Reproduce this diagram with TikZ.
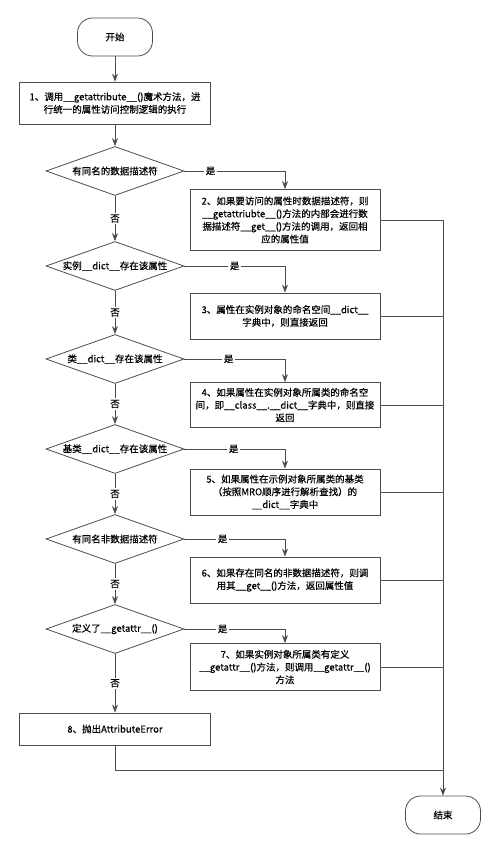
\documentclass[tikz,border=0pt]{standalone}
\usepackage{fontspec}
\setmainfont{Noto Sans CJK SC}[FakeBold=0.4]
\usetikzlibrary{shapes.geometric,arrows.meta}

\begin{document}
\begin{tikzpicture}[x=1pt,y=-1pt,
    font=\fontsize{9.5}{12.7}\selectfont,
    line/.style={draw=black!70, line width=0.8pt},
    arr/.style={line, -{Stealth[length=8pt,width=6pt]}},
    term/.style={line, rectangle, rounded corners=15pt, minimum width=75pt, minimum height=38pt},
    stepbox/.style={line, rectangle, align=center, minimum width=190pt, inner sep=2pt},
    cond/.style={line, diamond, aspect=2.76, inner sep=0pt, minimum width=138pt, minimum height=49pt},
    lbl/.style={fill=white, inner sep=1.5pt}]

    \useasboundingbox (0,0) rectangle (500,853);

    % start and end
    \node[term] (start) at (115,37) {开始};
    \node[term] (stop) at (443,815) {结束};

    % left column
    \node[stepbox, minimum width=191pt, minimum height=42pt] (s1) at (115,103)
        {1、调用\_\_getattribute\_\_()魔术方法，进\\行统一的属性访问控制逻辑的执行};
    \node[cond] (d1) at (115,171) {有同名的数据描述符};
    \node[cond] (d2) at (115,266) {实例\_\_dict\_\_存在该属性};
    \node[cond] (d3) at (115,359) {类\_\_dict\_\_存在该属性};
    \node[cond] (d4) at (115,449) {基类\_\_dict\_\_存在该属性};
    \node[cond] (d5) at (115,539) {有同名非数据描述符};
    \node[cond] (d6) at (115,629) {定义了\_\_getattr\_\_()};
    \node[stepbox, minimum width=191pt, minimum height=32pt] (s8) at (115,729)
        {8、抛出AttributeError};

    % right column
    \node[stepbox, minimum height=61pt] (s2) at (285,220)
        {2、如果要访问的属性时数据描述符，则\\\_\_getattriubte\_\_()方法的内部会进行数\\据描述符\_\_get\_\_()方法的调用，返回相\\应的属性值};
    \node[stepbox, minimum height=46pt] (s3) at (285,316)
        {3、属性在实例对象的命名空间\_\_dict\_\_\\字典中，则直接返回};
    \node[stepbox, minimum height=45pt] (s4) at (285,405)
        {4、如果属性在实例对象所属类的命名空\\间，即\_\_class\_\_.\_\_dict\_\_字典中，则直接\\返回};
    \node[stepbox, minimum height=46pt] (s5) at (285,492)
        {5、如果属性在示例对象所属类的基类\\（按照MRO顺序进行解析查找）的\\\_\_dict\_\_字典中};
    \node[stepbox, minimum height=46pt] (s6) at (285,580)
        {6、如果存在同名的非数据描述符，则调\\用其\_\_get\_\_()方法，返回属性值};
    \node[stepbox, minimum height=47pt] (s7) at (285,667)
        {7、如果实例对象所属类有定义\\\_\_getattr\_\_()方法，则调用\_\_getattr\_\_()\\方法};

    \coordinate (join) at (443,770);

    % main flow
    \draw[arr] (start) -- (s1);
    \draw[arr] (s1) -- (d1);
    \foreach \a/\b in {d1/d2, d2/d3, d3/d4, d4/d5, d5/d6, d6/s8} {
        \draw[arr] (\a.south) -- node[lbl] {否} (\b.north);
    }
    \foreach \a/\b/\p in {d1/s2/0.13, d2/s3/0.25, d3/s4/0.22, d4/s5/0.245, d5/s6/0.19, d6/s7/0.19} {
        \draw[arr] (\a.east) -| node[lbl, pos=\p] {是} (\b.north);
    }

    % collect into end
    \draw[arr] (s2.east) -| (stop.north);
    \foreach \s in {s3,s4,s5,s6,s7} {
        \draw[line] (\s.east) -- (\s.east -| stop.north);
    }
    \draw[line] (s8.south) |- (join);

\end{tikzpicture}
\end{document}
